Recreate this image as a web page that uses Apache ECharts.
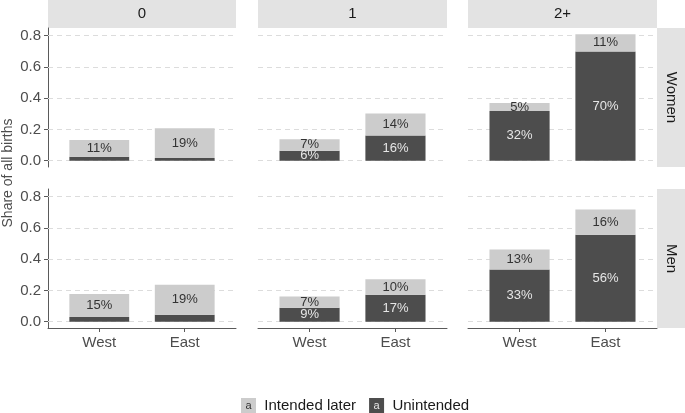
<!DOCTYPE html>
<html>
<head>
<meta charset="utf-8">
<script src="https://cdn.jsdelivr.net/npm/echarts@6/dist/echarts.min.js"></script>
<style>
html,body{margin:0;padding:0;background:#fff;}
#chart{width:685px;height:413px;}
</style>
</head>
<body>
<div id="chart"></div>
<script>
// ---- data ----
const parities = ['0', '1', '2+'];
const sexes = ['Women', 'Men'];
const regions = ['West', 'East'];
// per parity: [West, East]
const womenUnintended    = [[0.025, 0.017], [0.064, 0.162], [0.318, 0.699]];
const womenIntendedLater = [[0.108, 0.190], [0.074, 0.140], [0.052, 0.110]];
const menUnintended      = [[0.030, 0.044], [0.089, 0.172], [0.334, 0.557]];
const menIntendedLater   = [[0.148, 0.192], [0.072, 0.099], [0.128, 0.162]];
const yTicks = [0, 0.2, 0.4, 0.6, 0.8];
const yTickLabels = ['0.0', '0.2', '0.4', '0.6', '0.8'];
const seriesNames = ['Intended later', 'Unintended'];
const yTitle = 'Share of all births';

// ---- layout / style ----
const FONT = 'Liberation Sans, Arial, sans-serif';
const colLeft = [48, 258, 468];
const colWidth = [188, 189, 189];
const rowTop = [28, 189];
const rowHeight = 139;
const stripFill = '#E3E3E3';
const lightFill = '#CCCCCC';
const darkFill = '#4D4D4D';
const axisCol = '#5A5A5A';
const textCol = '#4D4D4D';

const unint = [womenUnintended, menUnintended];
const later = [womenIntendedLater, menIntendedLater];

let yMax = 0;
for (let r = 0; r < 2; r++) for (let c = 0; c < 3; c++) for (let k = 0; k < 2; k++)
  yMax = Math.max(yMax, unint[r][c][k] + later[r][c][k]);
const pad = yMax * 0.05;

const grids = [], xAxes = [], yAxes = [], series = [], graphics = [];

function labelFmt(p) {
  const v = p.value[0];
  return v >= 0.05 ? Math.round(v * 100) + '%' : '';
}

let gi = 0;
for (let r = 0; r < 2; r++) {
  for (let c = 0; c < 3; c++) {
    const w = colWidth[c];
    grids.push({ left: colLeft[c], top: rowTop[r], width: w, height: rowHeight, containLabel: false });
    const bottomRow = r === 1, leftCol = c === 0;
    xAxes.push({
      type: 'value', gridIndex: gi, min: 0.4, max: 2.6,
      axisLine: { show: bottomRow, onZero: false, lineStyle: { color: axisCol, width: 1 } },
      axisTick: { show: bottomRow, customValues: [1, 2], length: 4, lineStyle: { color: axisCol } },
      axisLabel: { show: bottomRow, customValues: [1, 2], margin: 7,
        formatter: v => regions[Math.round(v) - 1] || '',
        color: textCol, fontSize: 15, fontFamily: FONT },
      splitLine: { show: false }
    });
    yAxes.push({
      type: 'value', gridIndex: gi, min: -pad, max: yMax + pad,
      axisLine: { show: leftCol, lineStyle: { color: axisCol, width: 1 } },
      axisTick: { show: leftCol, customValues: yTicks, length: 4, lineStyle: { color: axisCol } },
      axisLabel: { show: leftCol, customValues: yTicks, margin: 7,
        formatter: v => { const i = yTicks.findIndex(t => Math.abs(t - v) < 1e-9); return i >= 0 ? yTickLabels[i] : ''; },
        color: textCol, fontSize: 15, fontFamily: FONT },
      splitLine: { show: false }
    });
    const bw = 0.7 / 2.2 * w;
    // gridlines (behind bars)
    series.push({
      type: 'line', xAxisIndex: gi, yAxisIndex: gi, data: [], z: 1, silent: true,
      markLine: {
        z: 1, silent: true, symbol: ['none', 'none'], animation: false,
        label: { show: false },
        lineStyle: { color: '#DCDCDC', type: [5, 4], width: 1 },
        data: yTicks.map(t => ({ yAxis: t }))
      }
    });
    // data items are [share, regionPosition] so the share dimension is the stacked one
    series.push({
      name: 'Unintended', type: 'bar', stack: 'p' + gi, xAxisIndex: gi, yAxisIndex: gi,
      encode: { x: 1, y: 0 }, barWidth: bw, z: 10,
      itemStyle: { color: darkFill },
      label: { show: true, position: 'inside', formatter: labelFmt, color: '#E6E6E6', fontSize: 13, fontFamily: FONT },
      data: regions.map((reg, k) => [unint[r][c][k], k + 1])
    });
    series.push({
      name: 'Intended later', type: 'bar', stack: 'p' + gi, xAxisIndex: gi, yAxisIndex: gi,
      encode: { x: 1, y: 0 }, barWidth: bw, z: 10,
      itemStyle: { color: lightFill },
      label: { show: true, position: 'inside', formatter: labelFmt, color: '#333333', fontSize: 13, fontFamily: FONT },
      data: regions.map((reg, k) => [later[r][c][k], k + 1])
    });
    gi++;
  }
}

// strips (top: parity)
for (let c = 0; c < 3; c++) {
  graphics.push({ type: 'rect', shape: { x: colLeft[c], y: 0, width: colWidth[c], height: 28 }, style: { fill: stripFill }, silent: true });
  graphics.push({ type: 'text', x: colLeft[c] + colWidth[c] / 2, y: 14,
    style: { text: parities[c], fill: '#1A1A1A', font: '15px ' + FONT, align: 'center', verticalAlign: 'middle' }, silent: true });
}
// strips (right: sex)
for (let r = 0; r < 2; r++) {
  graphics.push({ type: 'rect', shape: { x: 657, y: rowTop[r], width: 28, height: rowHeight }, style: { fill: stripFill }, silent: true });
  graphics.push({ type: 'text', x: 671, y: rowTop[r] + rowHeight / 2, rotation: -Math.PI / 2,
    style: { text: sexes[r], fill: '#1A1A1A', font: '15px ' + FONT, align: 'center', verticalAlign: 'middle' }, silent: true });
}
// y title
graphics.push({ type: 'text', x: 8, y: 173, rotation: Math.PI / 2,
  style: { text: yTitle, fill: textCol, font: '14px ' + FONT, align: 'center', verticalAlign: 'middle' }, silent: true });

const chart = echarts.init(document.getElementById('chart'), null, { renderer: 'canvas' });
chart.setOption({
  animation: false,
  backgroundColor: '#ffffff',
  grid: grids, xAxis: xAxes, yAxis: yAxes, series: series,
  graphic: graphics,
  legend: {
    data: seriesNames, left: 236, top: 398, padding: 0, itemWidth: 0, itemHeight: 0, itemGap: 8,
    selectedMode: false,
    formatter: name => (name === 'Unintended' ? '{ku|a}' : '{kl|a}') + '  ' + name,
    textStyle: {
      color: '#1A1A1A', fontSize: 15, fontFamily: FONT,
      rich: {
        kl: { backgroundColor: lightFill, color: '#333333', width: 15, height: 15, lineHeight: 15, align: 'center', fontSize: 11, fontFamily: FONT },
        ku: { backgroundColor: darkFill, color: '#E6E6E6', width: 15, height: 15, lineHeight: 15, align: 'center', fontSize: 11, fontFamily: FONT }
      }
    }
  }
});
</script>
</body>
</html>
